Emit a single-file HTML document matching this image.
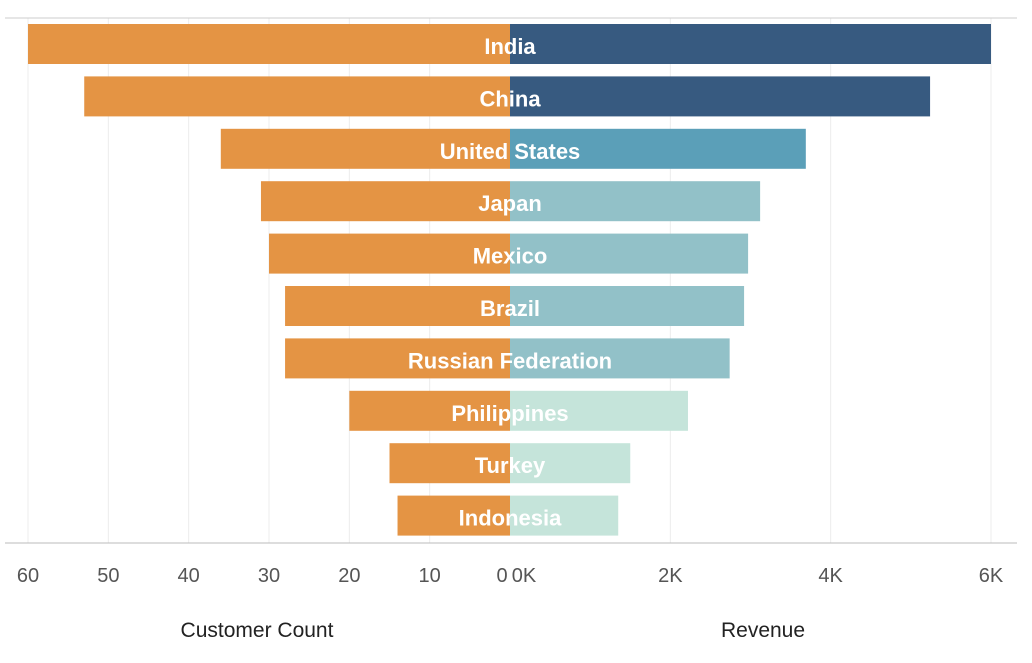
<!DOCTYPE html>
<html><head><meta charset="utf-8"><style>
body{margin:0;background:#fff;font-family:"Liberation Sans",sans-serif}
</style></head><body>
<svg id="chart" width="1032" height="658" xmlns="http://www.w3.org/2000/svg"></svg>
<script>
const countries=["India","China","United States","Japan","Mexico","Brazil","Russian Federation","Philippines","Turkey","Indonesia"];
const customerCount=[60,53,36,31,30,28,28,20,15,14];
const revenue=[6000,5240,3690,3120,2970,2920,2740,2220,1500,1350];
const leftTicks=[60,50,40,30,20,10,0];
const rightTicks=[0,2000,4000,6000];
const rightTickLabels=["0K","2K","4K","6K"];
const NS="http://www.w3.org/2000/svg";
const svgEl=document.getElementById('chart');
const cx=510;
const xL=v=>cx-v*(482/60);
const xR=v=>cx+v*(481/6000);
const rowY=i=>24+i*52.4;
function mk(t,a){const e=document.createElementNS(NS,t);for(const k in a)e.setAttribute(k,a[k]);svgEl.appendChild(e);return e;}
function revColor(v){if(v>=4500)return"#375A80";if(v>=3500)return"#5B9FB8";if(v>=2500)return"#92C1C8";return"#C5E4DA";}
leftTicks.forEach(t=>{if(t>0){const l=mk('line',{x1:xL(t),x2:xL(t),y1:18,y2:543,stroke:"#ececec","stroke-width":1});

}});
rightTicks.forEach(t=>{if(t>0){const l=mk('line',{x1:xR(t),x2:xR(t),y1:18,y2:543,stroke:"#ececec","stroke-width":1});

}});
const topBorder=mk('line',{x1:5,x2:1017,y1:18,y2:18,stroke:"#ccc"});


countries.forEach((c,i)=>{
  const y=rowY(i);
  const b=mk('rect',{x:xL(customerCount[i]),y:y,width:cx-xL(customerCount[i]),height:40,fill:"#E49444"});
  
  
  const r=mk('rect',{x:cx,y:y,width:xR(revenue[i])-cx,height:40,fill:revColor(revenue[i])});
  
  
  const t=mk('text',{x:cx,y:y+30,"text-anchor":"middle",fill:"#fff","font-size":22,"font-weight":"bold"});
  t.textContent=c;
  
  
});
const ax=mk('line',{x1:5,x2:1017,y1:543,y2:543,stroke:"#bbb"});


leftTicks.forEach(t=>{const e=mk('text',{x:xL(t)+(t==0?-8:0),y:582,"text-anchor":"middle",fill:"#555","font-size":20});e.textContent=t;

});
rightTicks.forEach((t,i)=>{const e=mk('text',{x:xR(t)+(t==0?14:0),y:582,"text-anchor":"middle",fill:"#555","font-size":20});e.textContent=rightTickLabels[i];

});
const t1=mk('text',{x:257,y:637,"text-anchor":"middle",fill:"#222","font-size":21});t1.textContent="Customer Count";


const t2=mk('text',{x:763,y:637,"text-anchor":"middle",fill:"#222","font-size":21});t2.textContent="Revenue";


</script>
</body></html>
